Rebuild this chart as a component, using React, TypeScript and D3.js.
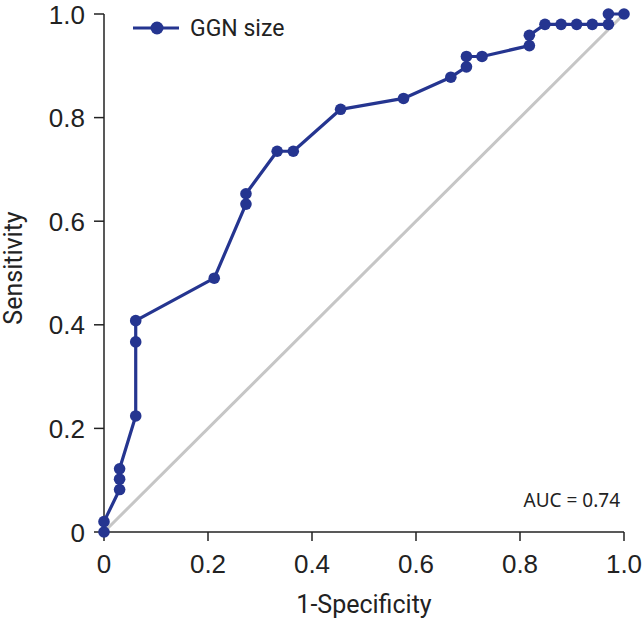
import React from "react";
import * as d3 from "d3";

const specificity1 = [0, 0, 0.03, 0.03, 0.03, 0.061, 0.061, 0.061, 0.212, 0.273, 0.273, 0.333, 0.364, 0.455, 0.576, 0.667, 0.697, 0.697, 0.727, 0.818, 0.818, 0.848, 0.879, 0.909, 0.939, 0.97, 0.97, 1.0];
const sensitivity = [0, 0.02, 0.082, 0.102, 0.122, 0.224, 0.367, 0.408, 0.49, 0.633, 0.653, 0.735, 0.735, 0.816, 0.837, 0.878, 0.898, 0.918, 0.918, 0.939, 0.959, 0.98, 0.98, 0.98, 0.98, 0.98, 1.0, 1.0];
const xTicks = [0, 0.2, 0.4, 0.6, 0.8, 1.0];
const yTicks = [0, 0.2, 0.4, 0.6, 0.8, 1.0];
const seriesName = "GGN size";
const aucLabel = "AUC = 0.74";
const xTitle = "1-Specificity";
const yTitle = "Sensitivity";

const W = 643, H = 623;
const BLUE = "#253590";
const fmt = (v: number) => (v === 0 ? "0" : v.toFixed(1));

export default function App() {
  const x = d3.scaleLinear().domain([0, 1]).range([104, 624]);
  const y = d3.scaleLinear().domain([0, 1]).range([532, 14]);
  const pts = specificity1.map((v, i) => [v, sensitivity[i]] as [number, number]);
  const line = d3.line<[number, number]>().x(d => x(d[0])).y(d => y(d[1]));
  return (
    <svg width={W} height={H} style={{ position: "absolute", left: 0, top: 0, background: "#fff" }}>
      <line x1={x(0)} y1={y(0)} x2={x(1)} y2={y(1)} stroke="#c6c6c6" strokeWidth={3} />
      {/* axes */}
      <line x1={x(0)} y1={y(0)} x2={x(1)} y2={y(0)} stroke="#222" strokeWidth={1.5} />
      <line x1={x(0)} y1={y(0)} x2={x(0)} y2={y(1)} stroke="#222" strokeWidth={1.5} />
      {xTicks.map(t => (
        <g key={"x" + t}>
          <line x1={x(t)} x2={x(t)} y1={y(0)} y2={y(0) + 9} stroke="#222" strokeWidth={1.5} />
          <text x={x(t)} y={573} textAnchor="middle" fontFamily="Liberation Sans" fontSize={26} fill="#222">{fmt(t)}</text>
        </g>
      ))}
      {yTicks.map(t => (
        <g key={"y" + t}>
          <line x1={x(0) - 10} x2={x(0)} y1={y(t)} y2={y(t)} stroke="#222" strokeWidth={1.5} />
          <text x={85} y={y(t) + 9.5} textAnchor="end" fontFamily="Liberation Sans" fontSize={26} fill="#222">{fmt(t)}</text>
        </g>
      ))}
      <path d={line(pts) || ""} fill="none" stroke={BLUE} strokeWidth={3.2} strokeLinejoin="round" />
      {pts.map((d, i) => (
        <circle key={i} cx={x(d[0])} cy={y(d[1])} r={5.8} fill={BLUE} />
      ))}
      {/* legend */}
      <line x1={133} x2={179} y1={28} y2={28} stroke={BLUE} strokeWidth={3.2} />
      <circle cx={157} cy={28} r={6.5} fill={BLUE} />
      <text x={190} y={36} fontFamily="Roboto" fontSize={23} fill="#222">{seriesName}</text>
      <text x={620} y={507} textAnchor="end" fontFamily="Noto Sans" fontSize={19} fill="#222">{aucLabel}</text>
      <text x={364} y={613} textAnchor="middle" fontFamily="Roboto" fontSize={25} fill="#222">{xTitle}</text>
      <text transform={`translate(22,268) rotate(-90)`} textAnchor="middle" fontFamily="Roboto" fontSize={25} fill="#222">{yTitle}</text>
    </svg>
  );
}
